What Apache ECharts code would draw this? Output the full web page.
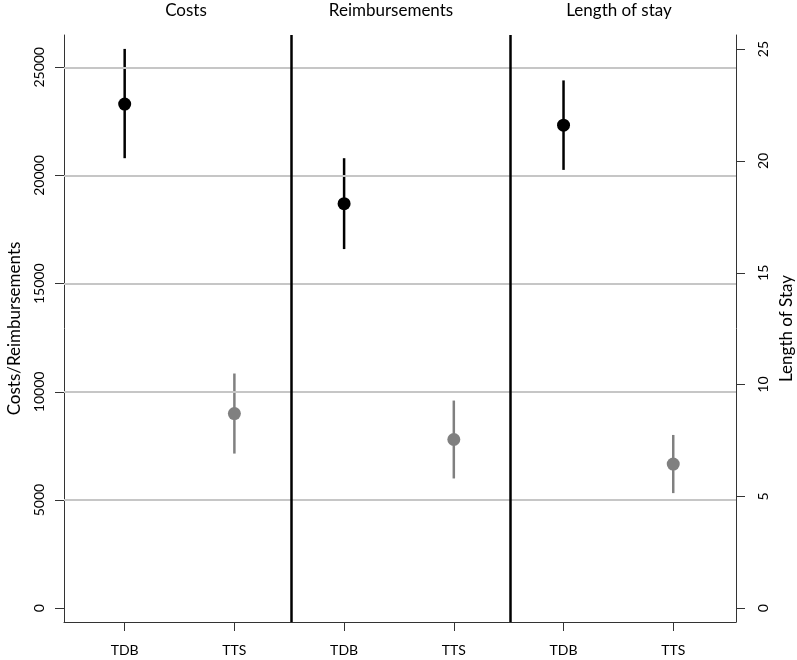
<!DOCTYPE html>
<html><head><meta charset="utf-8">
<script src="https://cdn.jsdelivr.net/npm/echarts@6/dist/echarts.min.js"></script>
<style>html,body{margin:0;padding:0;background:#fff}#c{width:797px;height:660px}</style>
</head><body><div id="c"></div>
<script>
const panels = ['Costs', 'Reimbursements', 'Length of stay'];
const groups = ['TDB', 'TTS', 'TDB', 'TTS', 'TDB', 'TTS'];
const xPos = [1, 2, 3, 4, 5, 6];
const costMean = [23300, 9000], costLow = [20800, 7150], costHigh = [25850, 10850];
const reimbMean = [18700, 7800], reimbLow = [16600, 6000], reimbHigh = [20800, 9600];
const losMean = [21.6, 6.45], losLow = [19.6, 5.15], losHigh = [23.6, 7.75];
const leftTicks = [0, 5000, 10000, 15000, 20000, 25000];
const rightTicks = [0, 5, 10, 15, 20, 25];
const gridValues = [5000, 10000, 15000, 20000, 25000];
const separators = [2.52, 4.51];

const colors = ['#000000', '#808080'];
const FONT = 'Lato';

function rows(xs, mean, low, high) {
  return mean.map((m, i) => [xs[i], m, low[i], high[i], i]);
}
const leftRows = rows([xPos[0], xPos[1]], costMean, costLow, costHigh)
  .concat(rows([xPos[2], xPos[3]], reimbMean, reimbLow, reimbHigh));
const rightRows = rows([xPos[4], xPos[5]], losMean, losLow, losHigh);

function renderErr(params, api) {
  const x = api.value(0), lo = api.value(2), hi = api.value(3), g = api.value(4);
  const p1 = api.coord([x, lo]), p2 = api.coord([x, hi]);
  return { type: 'line', shape: { x1: p1[0], y1: p1[1], x2: p2[0], y2: p2[1] },
    style: { stroke: colors[g], lineWidth: 2.5 } };
}

const chart = echarts.init(document.getElementById('c'), null, { renderer: 'canvas' });
const lineCol = '#333';
const titlePos = [186, 391, 619];
chart.setOption({
  animation: false,
  textStyle: { fontFamily: FONT },
  grid: { left: 64, right: 61, top: 35, bottom: 38, containLabel: false, outerBoundsMode: 'none' },
  graphic: panels.map((p, i) => ({
    type: 'text', x: titlePos[i], y: 11,
    style: { text: p, fill: '#000', font: '17px ' + FONT, textAlign: 'center', textVerticalAlign: 'middle' }
  })),
  xAxis: {
    type: 'value', min: 0.447, max: 6.572,
    axisLine: { show: true, onZero: false, lineStyle: { color: lineCol, width: 1 } },
    splitLine: { show: false },
    axisTick: { show: true, length: 9, customValues: xPos, lineStyle: { color: lineCol } },
    axisLabel: { customValues: xPos, formatter: v => groups[Math.round(v) - 1], margin: 21,
      fontSize: 14, color: '#000', fontFamily: FONT }
  },
  yAxis: [
    {
      type: 'value', position: 'left', min: -633, max: 26493,
      axisLine: { show: true, onZero: false, lineStyle: { color: lineCol, width: 1 } },
      splitLine: { show: false },
      axisTick: { show: true, length: 9, customValues: leftTicks, lineStyle: { color: lineCol } },
      axisLabel: { customValues: leftTicks, formatter: v => String(v), rotate: 90, margin: 18,
        fontSize: 14, color: '#000', fontFamily: FONT },
      name: 'Costs/Reimbursements', nameLocation: 'middle', nameRotate: 90, nameGap: 41,
      nameTextStyle: { fontSize: 17, color: '#000', fontFamily: FONT }
    },
    {
      type: 'value', position: 'right', min: -0.612, max: 25.63,
      axisLine: { show: true, onZero: false, lineStyle: { color: lineCol, width: 1 } },
      splitLine: { show: false },
      axisTick: { show: true, length: 9, customValues: rightTicks, lineStyle: { color: lineCol } },
      axisLabel: { customValues: rightTicks, formatter: v => String(v), rotate: 90, margin: 20,
        fontSize: 14, color: '#000', fontFamily: FONT },
      name: 'Length of Stay', nameLocation: 'middle', nameRotate: 90, nameGap: 33,
      nameTextStyle: { fontSize: 17, color: '#000', fontFamily: FONT }
    }
  ],
  series: [
    { type: 'scatter', data: [], z: 1, yAxisIndex: 0, silent: true,
      markLine: { silent: true, symbol: ['none', 'none'], label: { show: false },
        lineStyle: { color: '#c6c6c6', width: 2, type: 'solid' },
        emphasis: { disabled: true },
        data: gridValues.map(v => ({ yAxis: v })) } },
    { type: 'scatter', data: [], z: 2, yAxisIndex: 0, silent: true,
      markLine: { silent: true, symbol: ['none', 'none'], label: { show: false },
        lineStyle: { color: '#000', width: 2.5, type: 'solid' },
        emphasis: { disabled: true },
        data: separators.map(v => ({ xAxis: v })) } },
    { type: 'custom', yAxisIndex: 0, z: 3, data: leftRows, renderItem: renderErr, silent: true },
    { type: 'custom', yAxisIndex: 1, z: 3, data: rightRows, renderItem: renderErr, silent: true },
    { type: 'scatter', yAxisIndex: 0, z: 4, data: leftRows.map(r => [r[0], r[1], r[4]]), symbolSize: 13,
      itemStyle: { color: p => colors[p.data[2]], opacity: 1 }, silent: true },
    { type: 'scatter', yAxisIndex: 1, z: 4, data: rightRows.map(r => [r[0], r[1], r[4]]), symbolSize: 13,
      itemStyle: { color: p => colors[p.data[2]], opacity: 1 }, silent: true }
  ]
});
</script></body></html>
